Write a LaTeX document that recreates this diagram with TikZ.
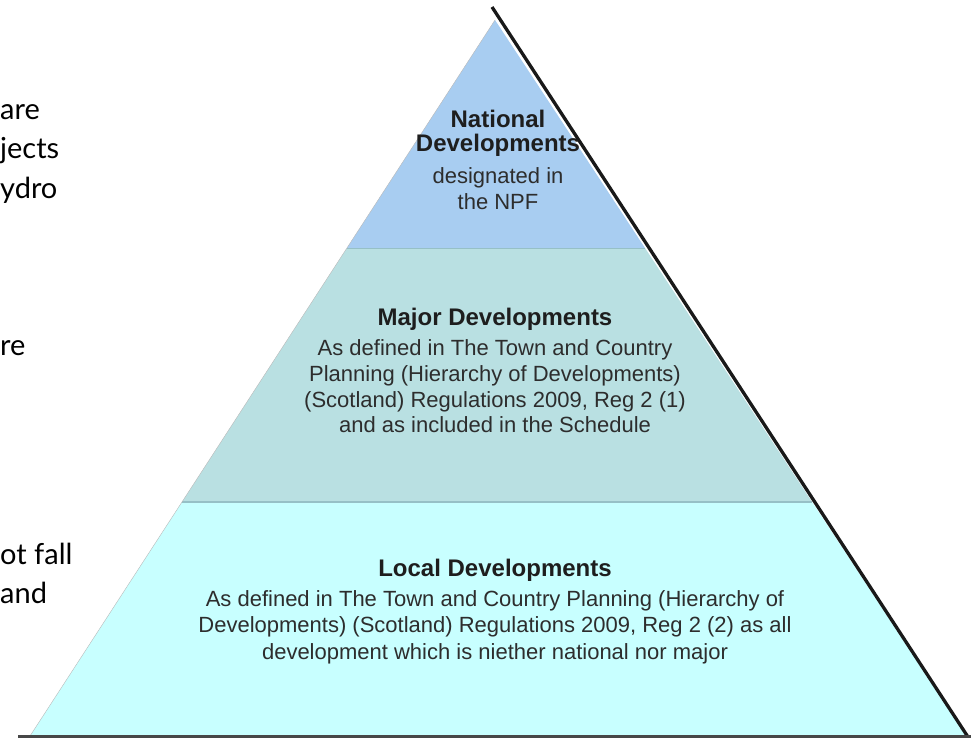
\documentclass[tikz,border=0pt]{standalone}
\usepackage{fontspec}
\setmainfont{Liberation Sans}
\newfontfamily\sidefont{Lato}
\usetikzlibrary{calc}
\definecolor{natblue}{RGB}{168,205,241}
\definecolor{majteal}{RGB}{185,224,226}
\definecolor{loccyan}{RGB}{200,255,255}
\definecolor{tierline}{RGB}{150,192,198}
\definecolor{headgray}{RGB}{30,30,30}
\definecolor{bodygray}{RGB}{45,45,45}
\tikzset{
  tierrule/.style={draw=tierline,line width=1.2pt},
  tierhead/.style={anchor=base,inner sep=0pt,text=headgray,
    font=\bfseries\fontsize{24}{24}\selectfont},
  tierbody/.style={anchor=base,inner sep=0pt,text=bodygray,
    font=\fontsize{22}{22}\selectfont},
  sidetext/.style={anchor=base west,inner sep=0pt,text=black,
    font=\sidefont\fontsize{29}{29}\selectfont},
}
\begin{document}
\begin{tikzpicture}[x=1pt,y=-1pt]
    \useasboundingbox (0,0) rectangle (971,738);
    %% corners of the pyramid
    \coordinate (apex) at (495,20);
    \coordinate (baseL) at (30,736);
    \coordinate (baseR) at (966,736);
    \coordinate (natL) at ($(apex)!0.3184!(baseL)$);
    \coordinate (natR) at ($(apex)!0.3184!(baseR)$);
    \coordinate (majL) at ($(apex)!0.6732!(baseL)$);
    \coordinate (majR) at ($(apex)!0.6732!(baseR)$);
    %% tiers
    \fill[loccyan] (majL) -- (majR) -- (baseR) -- (baseL) -- cycle;
    \fill[majteal] (natL) -- (natR) -- (majR) -- (majL) -- cycle;
    \fill[natblue] (apex) -- (natR) -- (natL) -- cycle;
    \draw[tierrule,line width=0.8pt] (natL) -- (natR);
    \draw[tierrule] (majL) -- (majR);
    \draw[gray!55] (apex) -- (baseL);
    %% black side and base line
    \coordinate (top) at (492,7);
    \coordinate (foot) at (968,737);
    \coordinate (floorL) at (18,736.5);
    \coordinate (floorR) at (971,736.5);
    \draw[line width=3.3pt,black!90] (top) -- (foot);
    \draw[line width=2.5pt,black!72] (floorL) -- (floorR);
    %% national
    \node[tierhead] (nat-head1) at (498,128) {National};
    \node[tierhead] (nat-head2) at (498,152) {Developments};
    \foreach \yy/\txt in {183/designated in, 209/the NPF}
        \node[tierbody] (nat-\yy) at (498,\yy) {\txt};
    %% major
    \node[tierhead] (maj-head) at (495,325) {Major Developments};
    \foreach \yy/\txt in {355/As defined in The Town and Country,
                          381/Planning (Hierarchy of Developments),
                          407/{(Scotland) Regulations 2009, Reg 2 (1)},
                          432/and as included in the Schedule}
        \node[tierbody] (maj-\yy) at (495,\yy) {\txt};
    %% local
    \node[tierhead] (loc-head) at (495,576) {Local Developments};
    \foreach \yy/\txt in {606/As defined in The Town and Country Planning (Hierarchy of,
                          632/{Developments) (Scotland) Regulations 2009, Reg 2 (2) as all},
                          659/development which is niether national nor major}
        \node[tierbody] (loc-\yy) at (495,\yy) {\txt};
    %% cut-off text at the left
    \node[sidetext] (side1) at (0,120) {are};
    \node[sidetext] (side2) at (0,159) {jects};
    \node[sidetext] (side3) at (0,198) {ydro};
    \node[sidetext] (side4) at (0,355) {re};
    \node[sidetext] (side5) at (0,564) {ot fall};
    \node[sidetext] (side6) at (0,603) {and};
\end{tikzpicture}
\end{document}
